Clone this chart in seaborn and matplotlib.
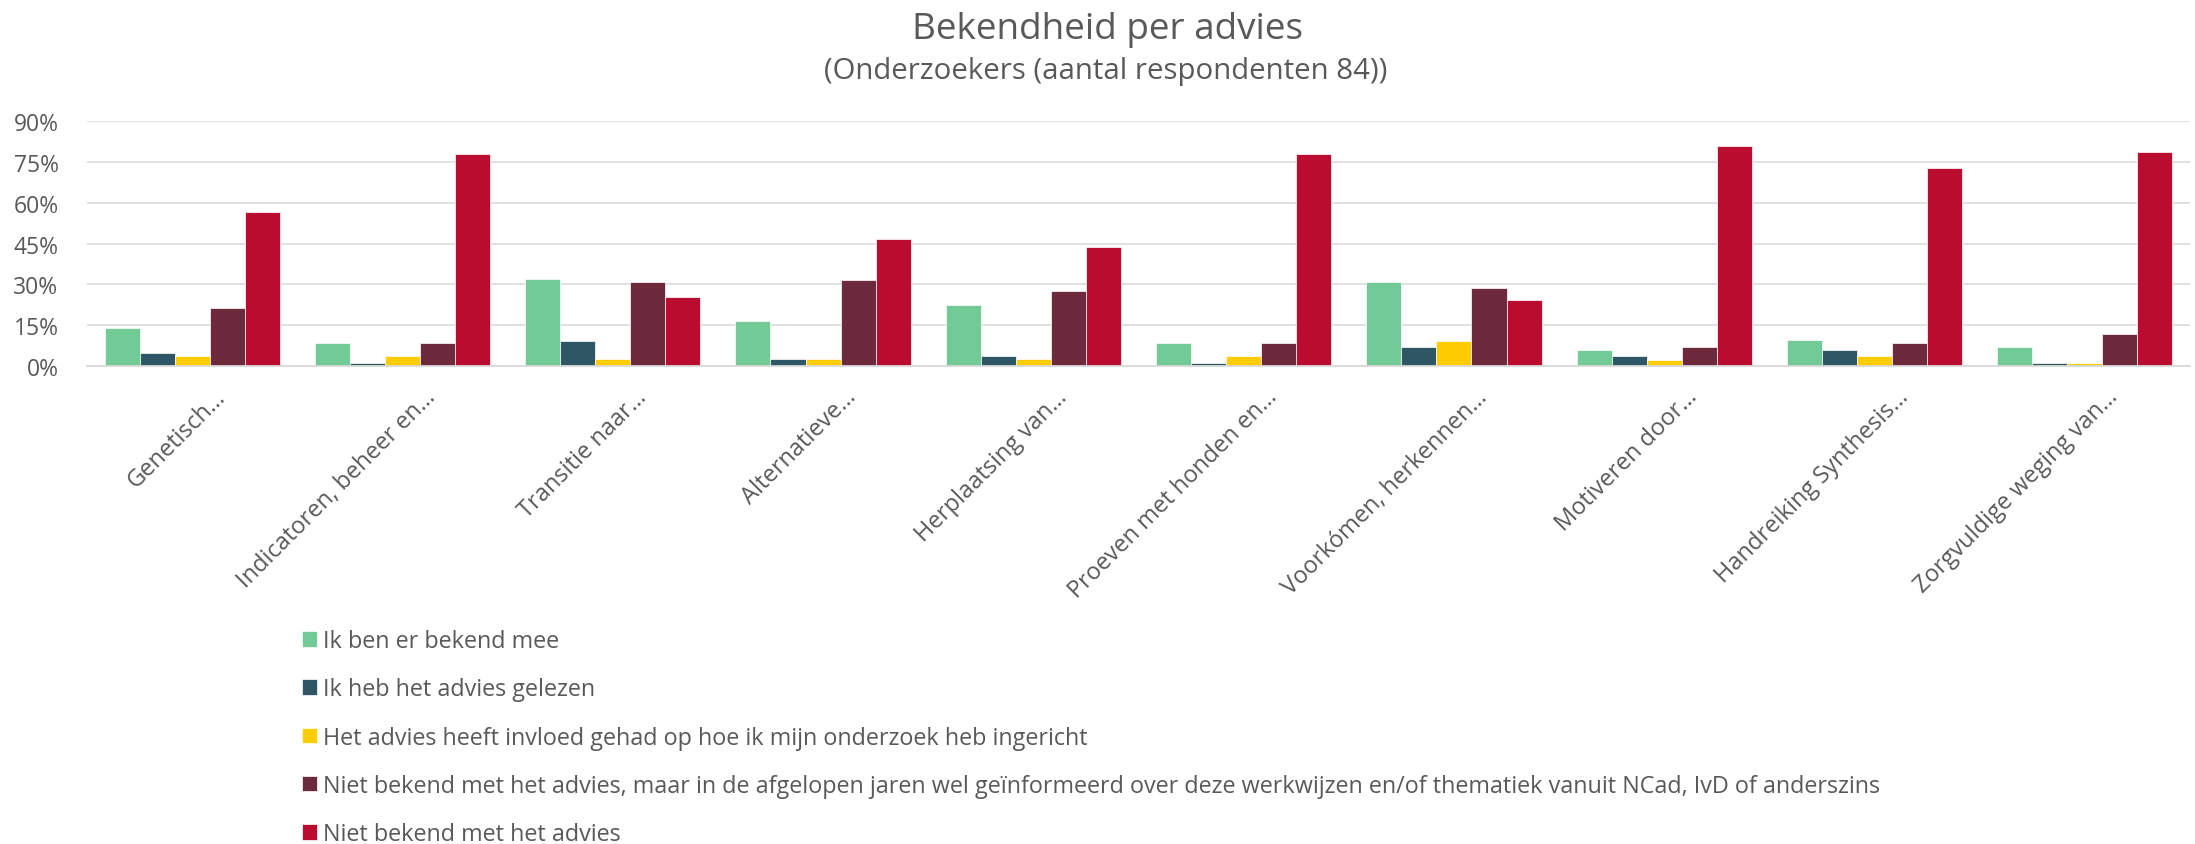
import numpy as np
import pandas as pd
import matplotlib
matplotlib.use("Agg")
import matplotlib.pyplot as plt
import matplotlib.transforms as mtransforms
from matplotlib.ticker import FuncFormatter
import seaborn as sns

# ---------------- data ----------------
categories = [
    "Genetisch…",
    "Indicatoren, beheer en…",
    "Transitie naar…",
    "Alternatieve…",
    "Herplaatsing van…",
    "Proeven met honden en…",
    "Voorkómen, herkennen…",
    "Motiveren door…",
    "Handreiking Synthesis…",
    "Zorgvuldige weging van…",
]
series = [
    "Ik ben er bekend mee",
    "Ik heb het advies gelezen",
    "Het advies heeft invloed gehad op hoe ik mijn onderzoek heb ingericht",
    "Niet bekend met het advies, maar in de afgelopen jaren wel geïnformeerd over deze werkwijzen en/of thematiek vanuit NCad, IvD of anderszins",
    "Niet bekend met het advies",
]
ik_ben_bekend = [14.1, 8.3, 31.9, 16.4, 22.4, 8.3, 31.0, 6.0, 9.5, 7.1]
gelezen = [4.8, 1.2, 9.3, 2.4, 3.6, 1.2, 6.8, 3.6, 5.8, 1.2]
invloed = [3.6, 3.6, 2.4, 2.4, 2.4, 3.6, 9.2, 2.2, 3.6, 1.2]
geinformeerd = [21.2, 8.3, 30.8, 31.6, 27.4, 8.3, 28.6, 7.1, 8.3, 11.9]
niet_bekend = [56.6, 77.7, 25.2, 46.8, 43.8, 77.7, 24.2, 80.8, 72.6, 78.6]
yticks = [0, 15, 30, 45, 60, 75, 90]

colors = ["#72CB97", "#2E5665", "#FFCC00", "#6E2A3D", "#BA0C2F"]
text_color = "#595959"
grid_color = "#D9D9D9"

values = [ik_ben_bekend, gelezen, invloed, geinformeerd, niet_bekend]
df = pd.DataFrame({
    "advies": [c for s in series for c in categories],
    "reeks": [s for s in series for c in categories],
    "waarde": [v for vals in values for v in vals],
})

sns.set_theme(style="white")
plt.rcParams["font.family"] = ["Open Sans", "DejaVu Sans"]

W, H = 2195, 845
fig = plt.figure(figsize=(W / 100, H / 100), dpi=100)
ax = fig.add_axes([87 / W, 1 - 367 / H, (2190 - 87) / W, (367 - 122) / H])

sns.barplot(data=df, x="advies", y="waarde", hue="reeks", order=categories,
            hue_order=series, palette=colors, saturation=1, width=0.833,
            edgecolor="white", linewidth=0.5, ax=ax, errorbar=None)

ax.set_ylim(0, 90)
ax.set_xlim(-0.5, len(categories) - 0.5)
ax.set_yticks(yticks)
ax.yaxis.set_major_formatter(FuncFormatter(lambda v, p: f"{v:.0f}%"))
ax.grid(axis="y", color=grid_color, linewidth=1.1)
ax.set_axisbelow(True)
for side in ["top", "right", "left"]:
    ax.spines[side].set_visible(False)
ax.spines["bottom"].set_color(grid_color)
ax.spines["bottom"].set_linewidth(1.3)
ax.set_xlabel("")
ax.set_ylabel("")
ax.tick_params(axis="y", length=0, pad=20.5, labelsize=16.5, labelcolor=text_color)
ax.tick_params(axis="x", length=0, pad=0, labelsize=17, labelcolor=text_color)
ax.set_xticks(range(len(categories)))
ax.set_xticklabels(categories, rotation=45, ha="right", va="center",
                   rotation_mode="anchor")
offset = mtransforms.ScaledTranslation(0.30, -0.27, fig.dpi_scale_trans)
for lab in ax.get_xticklabels():
    lab.set_transform(lab.get_transform() + offset)

handles, labels = ax.get_legend_handles_labels()
if ax.get_legend() is not None:
    ax.get_legend().remove()
fig.legend(handles, labels, loc="upper left",
           bbox_to_anchor=(302 / W, 1 - 630 / H), frameon=False,
           borderpad=0, borderaxespad=0, handlelength=0.65, handleheight=0.65,
           handletextpad=0.25, labelspacing=1.04, fontsize=16.8,
           labelcolor=text_color)

fig.text(1108 / W, 1 - 39.5 / H, "Bekendheid per advies", ha="center",
         va="baseline", fontsize=26.6, color=text_color)
fig.text(1106 / W, 1 - 78.5 / H, "(Onderzoekers (aantal respondenten 84))",
         ha="center", va="baseline", fontsize=21.2, color=text_color)

fig.savefig("out.png", dpi=100)
